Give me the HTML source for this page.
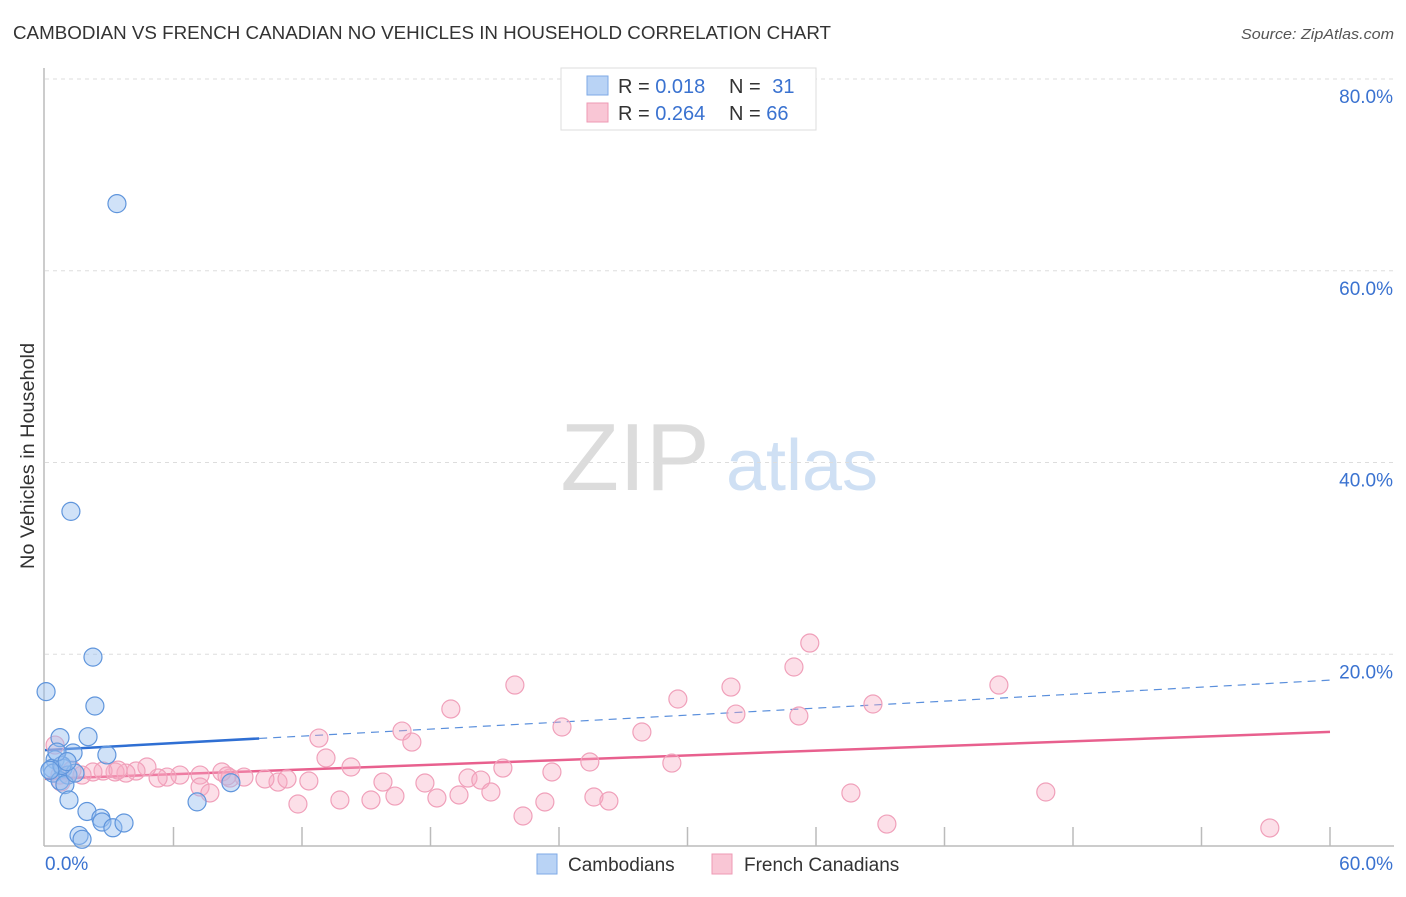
<!DOCTYPE html>
<html><head><meta charset="utf-8"><style>
body{margin:0;background:#fff;font-family:"Liberation Sans",sans-serif;}
svg text{font-family:"Liberation Sans",sans-serif;}
</style></head><body>
<svg id="chart" width="1406" height="892" xmlns="http://www.w3.org/2000/svg">
<text x="13" y="39" font-size="18" fill="#333" textLength="818" lengthAdjust="spacingAndGlyphs">CAMBODIAN VS FRENCH CANADIAN NO VEHICLES IN HOUSEHOLD CORRELATION CHART</text>
<text x="1394" y="39" font-size="15" fill="#555" text-anchor="end" font-style="italic" textLength="153" lengthAdjust="spacingAndGlyphs">Source: ZipAtlas.com</text>
<text transform="translate(34,456) rotate(-90)" font-size="19" fill="#333" text-anchor="middle" textLength="226" lengthAdjust="spacingAndGlyphs">No Vehicles in Household</text>
<g>
<text x="635" y="490" font-size="96" fill="#dcdcdc" font-family="Liberation Serif" text-anchor="middle">ZIP</text>
<text x="802" y="490" font-size="72" fill="#cfe0f4" text-anchor="middle">atlas</text>
</g>
<g id="grid"></g>
<g id="axes"></g>
<g id="trends"></g>
<g id="points"></g>
<g>
<rect x="561" y="68" width="255" height="62" fill="#fff" stroke="#ddd"/>
<rect x="587" y="76" width="21" height="19" fill="#b9d3f5" stroke="#7eaae6"/>
<rect x="587" y="103" width="21" height="19" fill="#f9c6d5" stroke="#ee9ab4"/>
<text x="618" y="93" font-size="20" fill="#333">R = <tspan fill="#3a72d0">0.018</tspan></text>
<text x="729" y="93" font-size="20" fill="#333">N = <tspan fill="#3a72d0" dx="6">31</tspan></text>
<text x="618" y="120" font-size="20" fill="#333">R = <tspan fill="#3a72d0">0.264</tspan></text>
<text x="729" y="120" font-size="20" fill="#333">N = <tspan fill="#3a72d0">66</tspan></text>
</g>
<g>
<rect x="537" y="854" width="20" height="20" fill="#b9d3f5" stroke="#7eaae6"/>
<text x="568" y="871" font-size="19" fill="#333">Cambodians</text>
<rect x="712" y="854" width="20" height="20" fill="#f9c6d5" stroke="#ee9ab4"/>
<text x="744" y="871" font-size="19" fill="#333">French Canadians</text>
</g>
</svg>
<script>
const blueX=[3.36,1.21,2.24,0.05,2.33,0.70,2.01,2.89,1.31,0.47,0.33,0.84,0.37,1.07,0.70,0.93,1.40,1.12,1.96,2.61,2.66,3.17,3.69,1.59,1.73,7.10,8.68,0.79,0.56,0.23,1.03];
const blueY=[67.0,34.9,19.7,16.1,14.6,11.3,11.4,9.5,9.7,9.0,8.1,8.1,7.6,7.4,6.8,6.4,7.6,4.8,3.6,2.9,2.5,1.9,2.4,1.1,0.7,4.6,6.6,8.4,9.8,7.9,8.8];
const pinkX=[35.71,34.97,44.54,21.94,32.03,29.55,18.95,38.66,32.26,35.20,24.14,16.67,27.87,12.79,17.13,13.12,25.44,29.27,14.29,21.38,23.67,19.75,20.35,17.74,15.78,12.32,10.88,11.30,10.27,9.29,8.64,8.26,7.24,6.30,5.70,5.28,4.76,4.25,3.78,3.27,2.71,2.24,1.73,1.26,0.70,0.47,7.24,7.70,11.81,13.77,15.22,16.34,18.30,19.33,20.82,23.34,25.63,26.33,37.63,46.73,22.32,39.31,57.19,0.75,3.41,8.50];
const pinkY=[21.17,18.67,16.79,16.79,16.58,15.33,14.29,14.81,13.76,13.56,12.41,11.99,11.89,11.26,10.84,9.18,8.76,8.65,8.24,8.13,7.72,7.09,6.88,6.57,6.67,6.78,6.67,6.99,6.99,7.19,7.09,7.72,7.40,7.40,7.19,7.09,8.24,7.82,7.61,7.72,7.82,7.72,7.40,7.92,7.40,10.53,6.15,5.53,4.38,4.80,4.80,5.21,5.01,5.32,5.63,4.59,5.11,4.69,5.53,5.63,3.13,2.29,1.88,6.67,7.92,7.30];
const yTicks=[20,40,60,80];
const yTickLabels=["20.0%","40.0%","60.0%","80.0%"];
const xTicks=[0,6,12,18,24,30,36,42,48,54,60];
const xEndLabels=["0.0%","60.0%"];
const blueTrend=[10.0,17.3];
const blueSolidEnd=10.0;
const pinkTrend=[7.0,11.9];

const X=v=>45+v*(1330-45)/60;
const Y=v=>846-v*(846-79)/80;
const NS="http://www.w3.org/2000/svg";
function mk(parent,tag,attrs){const e=document.createElementNS(NS,tag);for(const k in attrs)e.setAttribute(k,attrs[k]);parent.appendChild(e);return e;}
const grid=document.getElementById('grid'),axes=document.getElementById('axes'),trends=document.getElementById('trends'),pts=document.getElementById('points');
yTicks.forEach((t,i)=>{
  const l=mk(grid,'line',{x1:45,x2:1394,y1:Y(t),y2:Y(t),stroke:'#ddd','stroke-dasharray':'4,4'});
  
  
  const tx=mk(axes,'text',{x:1393,y:Y(t)+24,'font-size':19,fill:'#3a72d0','text-anchor':'end'});
  tx.textContent=yTickLabels[i];
  
  
});
const ya=mk(axes,'line',{x1:44,x2:44,y1:68,y2:846,stroke:'#bbb','stroke-width':1.5});


const xa=mk(axes,'line',{x1:44,x2:1394,y1:846,y2:846,stroke:'#bbb','stroke-width':1.5});


xTicks.forEach(t=>{if(t===0)return;
  const l=mk(axes,'line',{x1:X(t),x2:X(t),y1:827,y2:846,stroke:'#bbb','stroke-width':1.5});
  
  
});
const xl0=mk(axes,'text',{x:45,y:870,'font-size':19,fill:'#3a72d0'});xl0.textContent=xEndLabels[0];


const xl1=mk(axes,'text',{x:1393,y:870,'font-size':19,fill:'#3a72d0','text-anchor':'end'});xl1.textContent=xEndLabels[1];


function drawPts(xs,ys,fill,stroke,name){xs.forEach((x,i)=>{
  const c=mk(pts,'circle',{cx:X(x),cy:Y(ys[i]),r:9,fill:fill,stroke:stroke,'stroke-width':1.2});
  
  
});}
drawPts(pinkX,pinkY,'rgba(246,170,195,0.38)','#f0a0ba','french-canadian-point');
drawPts(blueX,blueY,'rgba(150,190,240,0.45)','#5f95dc','cambodian-point');
const bAt=x=>blueTrend[0]+(blueTrend[1]-blueTrend[0])*x/60;
const bs=mk(trends,'line',{x1:X(0),y1:Y(bAt(0)),x2:X(blueSolidEnd),y2:Y(bAt(blueSolidEnd)),stroke:'#2f6fd3','stroke-width':2.5});


const bd=mk(trends,'line',{x1:X(blueSolidEnd),y1:Y(bAt(blueSolidEnd)),x2:X(60),y2:Y(bAt(60)),stroke:'#5a8fdc','stroke-width':1.2,'stroke-dasharray':'8,6'});


const pl=mk(trends,'line',{x1:X(0),y1:Y(pinkTrend[0]),x2:X(60),y2:Y(pinkTrend[1]),stroke:'#e8608e','stroke-width':2.5});


</script>
</body></html>
